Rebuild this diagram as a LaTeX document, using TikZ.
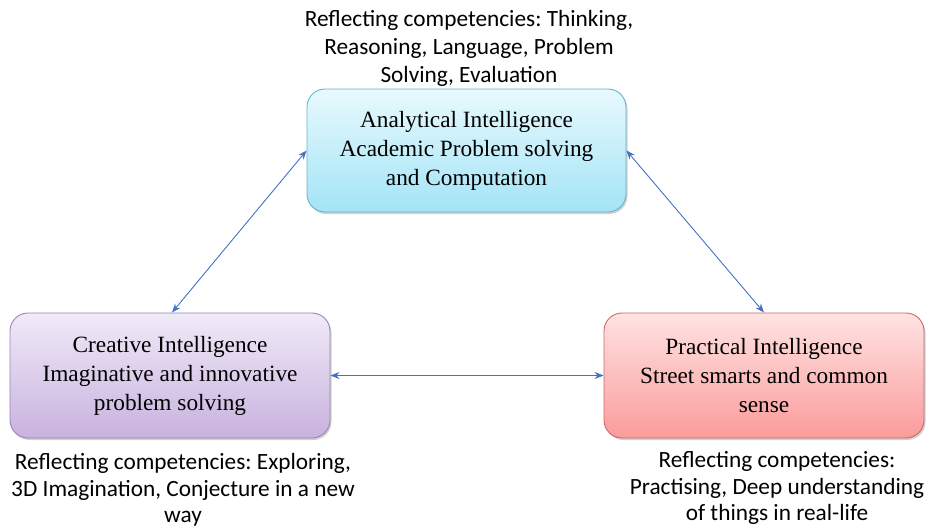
\documentclass[tikz,border=0pt]{standalone}
\usepackage{fontspec}
\setmainfont{Carlito}
\newfontfamily\boxfont{Liberation Serif}
\frenchspacing
\usetikzlibrary{arrows.meta,shadows}
\definecolor{arrowblue}{HTML}{4472C4}
\definecolor{cyantop}{HTML}{E8F9FD}
\definecolor{cyanbot}{HTML}{A3E4F7}
\definecolor{cyanline}{HTML}{62B4D4}
\definecolor{purptop}{HTML}{F0EAF7}
\definecolor{purpbot}{HTML}{C8B2DF}
\definecolor{purpline}{HTML}{9A82BF}
\definecolor{redtop}{HTML}{FFE3E3}
\definecolor{redbot}{HTML}{FB9B9B}
\definecolor{redline}{HTML}{D06666}
\tikzset{
  ibox/.style={rounded corners=18pt, line width=0.9pt, inner sep=0pt,
    minimum width=#1, align=center,
    font=\boxfont\frenchspacing\fontsize{23.3}{29}\selectfont,
    drop shadow={shadow xshift=1.5pt, shadow yshift=-2pt, opacity=0.3, fill=black!60}},
  lbl/.style={align=center, font=\frenchspacing\fontsize{23.3}{28}\selectfont, inner sep=0pt},
  blbl/.style={align=center, font=\frenchspacing\fontsize{23.3}{26.5}\selectfont, inner sep=0pt},
  link/.style={draw=arrowblue, line width=0.9pt, {Stealth[length=9pt,width=7pt]}-{Stealth[length=9pt,width=7pt]}}
}
\begin{document}
\begin{tikzpicture}[x=1pt,y=-1pt]
\useasboundingbox (0,0) rectangle (927,528);
\node[ibox=319pt, minimum height=123pt, draw=cyanline, top color=cyantop, bottom color=cyanbot]
  (top) at (466.5,150.5) {\raisebox{-2pt}{\parbox{300pt}{\centering Analytical Intelligence\\Academic Problem solving\\and Computation}}};
\node[ibox=320pt, minimum height=125pt, draw=purpline, top color=purptop, bottom color=purpbot]
  (left) at (170,375.5) {Creative Intelligence\\Imaginative and innovative\\problem solving};
\node[ibox=320pt, minimum height=125pt, draw=redline, top color=redtop, bottom color=redbot]
  (right) at (764,375.5) {Practical Intelligence\\Street smarts and common\\sense};
\node[lbl] (toplbl) at (469,48) {Reflecting competencies: Thinking,\\Reasoning, Language, Problem\\Solving, Evaluation};
\node[blbl] (leftlbl) at (183,490) {Reflecting competencies: Exploring,\\3D Imagination, Conjecture in a new\\way};
\node[blbl] (rightlbl) at (777,488) {Reflecting competencies:\\Practising, Deep understanding\\of things in real-life};
\coordinate (ltop) at ([xshift=2pt]left.north);
\draw[link] (ltop) -- (top.west);
\draw[link] (top.east) -- (right.north);
\draw[link] (left.east) -- (right.west);
\end{tikzpicture}
\end{document}
